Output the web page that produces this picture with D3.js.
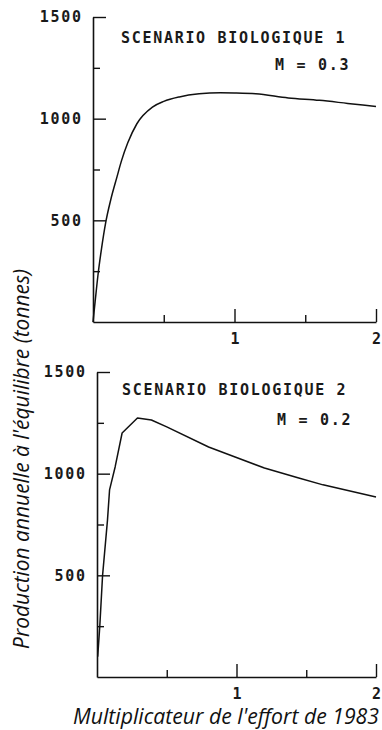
<!DOCTYPE html>
<html>
<head>
<meta charset="utf-8">
<script src="https://cdn.jsdelivr.net/npm/d3@7"></script>
<style>
  html, body { margin: 0; padding: 0; background: #fff; }
  svg { display: block; }
  .mono { font-family: "DejaVu Sans Mono", "Liberation Mono", monospace; font-size: 15px; font-weight: bold; letter-spacing: 1.7px; fill: #1a1a1a; }
  .title { font-family: "Open Sans", Lato, "Noto Sans", sans-serif; font-style: italic; fill: #111; }
</style>
</head>
<body>
<svg id="chart" width="382" height="730"></svg>
<script>
// ---- data ----
const multTop = [0, 0.015, 0.035, 0.06, 0.09, 0.125, 0.17, 0.2, 0.245, 0.31, 0.42, 0.5, 0.61, 0.75, 0.9, 1.0, 1.15, 1.38, 1.6, 1.8, 2.0];
const prodTop = [0, 100, 230, 360, 490, 600, 715, 790, 880, 975, 1057, 1085, 1107, 1122, 1127, 1126, 1122, 1102, 1090, 1075, 1060];

const multBottom = [0.005, 0.02, 0.04, 0.075, 0.09, 0.13, 0.18, 0.29, 0.39, 0.5, 0.8, 0.99, 1.2, 1.44, 1.62, 2.0];
const prodBottom = [100, 250, 500, 770, 920, 1033, 1200, 1274, 1264, 1230, 1131, 1082, 1028, 980, 945, 885];

const yMajorTicks = [500, 1000, 1500];
const yMinorTicks = [250, 750, 1250];
const xMajorTicks = [1, 2];
const xMinorTicks = [0.5, 1.5];

const panelTitles = ["SCENARIO BIOLOGIQUE 1", "SCENARIO BIOLOGIQUE 2"];
const panelM = ["M = 0.3", "M = 0.2"];
const xTitle = "Multiplicateur de l'effort de 1983";
const yTitle = "Production annuelle à l'équilibre (tonnes)";

// ---- layout ----
const panels = [
  { mult: multTop, prod: prodTop, x0: 93, x1: 376, y0: 322, y1: 17, curve: d3.curveMonotoneX,
    titleX: 121, titleY: 43, mX: 275, mY: 70, title: panelTitles[0], m: panelM[0] },
  { mult: multBottom, prod: prodBottom, x0: 97, x1: 376, y0: 677, y1: 372, curve: d3.curveLinear,
    titleX: 122, titleY: 395, mX: 277, mY: 425, title: panelTitles[1], m: panelM[1] }
];

const svg = d3.select("#chart");
const ink = "#111";

panels.forEach(p => {
  const x = d3.scaleLinear().domain([0, 2]).range([p.x0, p.x1]);
  const y = d3.scaleLinear().domain([0, 1500]).range([p.y0, p.y1]);
  const g = svg.append("g");

  // y axis major
  const ya = g.append("g").attr("transform", `translate(${p.x0},0)`)
    .call(d3.axisLeft(y).tickValues(yMajorTicks).tickSizeInner(-13).tickSizeOuter(0).tickPadding(12).tickFormat(d3.format("d")));
  ya.select(".domain").attr("stroke", ink).attr("stroke-width", 1.6);
  ya.selectAll(".tick line").attr("stroke", ink).attr("stroke-width", 1.4);
  ya.selectAll(".tick text").attr("class", "mono").attr("font-family", null).attr("font-size", null).attr("dx", "1.7px");
  // y axis minor
  const ym = g.append("g").attr("transform", `translate(${p.x0},0)`)
    .call(d3.axisLeft(y).tickValues(yMinorTicks).tickSizeInner(-7).tickSizeOuter(0).tickFormat(""));
  ym.select(".domain").remove();
  ym.selectAll(".tick line").attr("stroke", ink).attr("stroke-width", 1.4);

  // x axis major
  const xa = g.append("g").attr("transform", `translate(0,${p.y0})`)
    .call(d3.axisBottom(x).tickValues(xMajorTicks).tickSizeInner(-13).tickSizeOuter(0).tickPadding(11).tickFormat(d3.format("d")));
  xa.select(".domain").attr("stroke", ink).attr("stroke-width", 1.6);
  xa.selectAll(".tick line").attr("stroke", ink).attr("stroke-width", 1.4);
  xa.selectAll(".tick text").attr("class", "mono").attr("font-family", null).attr("font-size", null).style("letter-spacing", "0px");
  // x axis minor
  const xm = g.append("g").attr("transform", `translate(0,${p.y0})`)
    .call(d3.axisBottom(x).tickValues(xMinorTicks).tickSizeInner(-7).tickSizeOuter(0).tickFormat(""));
  xm.select(".domain").remove();
  xm.selectAll(".tick line").attr("stroke", ink).attr("stroke-width", 1.4);

  // curve
  const pts = p.mult.map((m, i) => [m, p.prod[i]]);
  g.append("path")
    .datum(pts)
    .attr("fill", "none")
    .attr("stroke", ink)
    .attr("stroke-width", 1.5)
    .attr("stroke-linejoin", "round")
    .attr("d", d3.line().x(d => x(d[0])).y(d => y(d[1])).curve(p.curve));

  // panel texts
  g.append("text").attr("class", "mono").attr("x", p.titleX).attr("y", p.titleY).text(p.title);
  g.append("text").attr("class", "mono").attr("x", p.mX).attr("y", p.mY).text(p.m);
});

// axis titles, sized to span their measured widths
const xt = svg.append("text").attr("class", "title")
  .attr("x", 226).attr("y", 724).attr("text-anchor", "middle")
  .style("font-size", "15px").text(xTitle);
const xw = xt.node().getComputedTextLength();
xt.style("font-size", (15 * 306 / xw).toFixed(2) + "px");

const yt = svg.append("text").attr("class", "title")
  .attr("transform", "translate(29,459) rotate(-90)").attr("text-anchor", "middle")
  .style("font-size", "15px").text(yTitle);
const yw = yt.node().getComputedTextLength();
yt.style("font-size", (15 * 380 / yw).toFixed(2) + "px");
</script>
</body>
</html>
